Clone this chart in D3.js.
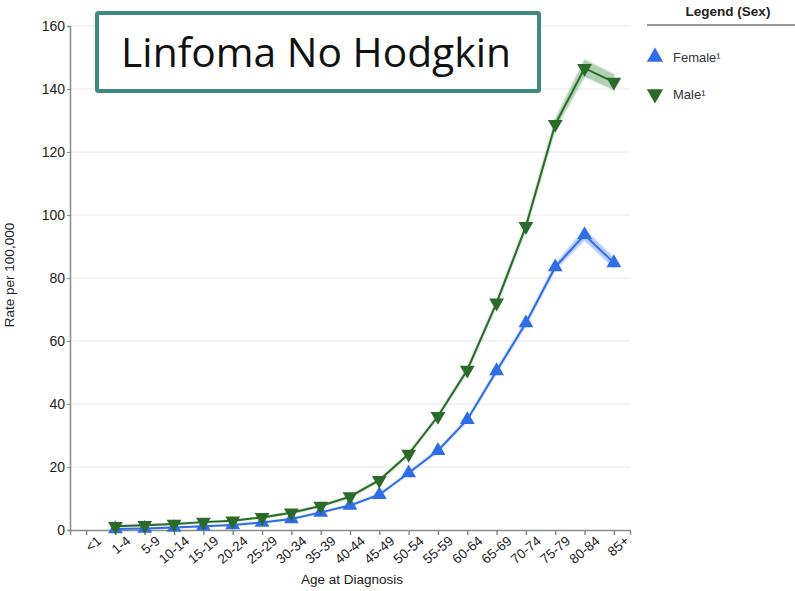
<!DOCTYPE html>
<html>
<head>
<meta charset="utf-8">
<script src="https://cdn.jsdelivr.net/npm/d3@7"></script>
<style>
  body { margin: 0; background: #fff; }
  svg { display: block; }
</style>
</head>
<body>
<svg id="chart" width="795" height="591"></svg>
<script>
// Age groups at diagnosis
const ageGroups = ["<1","1-4","5-9","10-14","15-19","20-24","25-29","30-34","35-39","40-44",
                   "45-49","50-54","55-59","60-64","65-69","70-74","75-79","80-84","85+"];

// Incidence rate per 100,000 (null = not reported)
const femaleRate = [null,0.3,0.5,0.8,1.2,1.6,2.4,3.5,5.6,7.8,11.2,18.1,25.2,35.0,50.5,65.7,83.5,93.7,84.8];
const maleRate   = [null,1.2,1.5,1.9,2.5,2.9,4.0,5.5,7.6,10.6,15.8,24.1,36.1,50.8,72.1,96.4,128.8,146.6,142.2];

// Confidence interval half-widths
const femaleCI = [null,0.05,0.05,0.05,0.1,0.1,0.1,0.15,0.2,0.2,0.3,0.3,0.4,0.5,0.6,0.7,0.9,1.6,1.6];
const maleCI   = [null,0.05,0.05,0.1,0.1,0.1,0.15,0.2,0.2,0.3,0.3,0.4,0.5,0.6,0.7,0.9,1.5,2.6,2.4];

const yTicks = [0,20,40,60,80,100,120,140,160];

const title = "Linfoma No Hodgkin";
const legendTitle = "Legend (Sex)";

const series = [
  { name: "Female\u00B9", values: femaleRate, ci: femaleCI, color: "#2f6de6", band: "#8fb0f2", up: true },
  { name: "Male\u00B9",   values: maleRate,   ci: maleCI,   color: "#2a6b2a", band: "#86b98a", up: false }
];

const svg = d3.select("#chart");
const font = "'Liberation Sans', Arial, Helvetica, sans-serif";

const x = d3.scalePoint().domain(ageGroups).range([70, 630]).padding(0.55);
const y = d3.scaleLinear().domain([0, 160]).range([530, 26]);

// Horizontal gridlines
svg.append("g")
  .selectAll("line")
  .data(yTicks.filter(d => d > 0))
  .join("line")
  .attr("x1", 70).attr("x2", 630)
  .attr("y1", d => y(d)).attr("y2", d => y(d))
  .attr("stroke", "#e6e6e6").attr("stroke-width", 1);

// Y axis
const yAxis = svg.append("g")
  .attr("transform", "translate(70,0)")
  .call(d3.axisLeft(y).tickValues(yTicks).tickSize(3).tickPadding(2));
yAxis.select(".domain").attr("stroke", "#8a8a8a").attr("stroke-width", 1.5);
yAxis.selectAll(".tick line").attr("stroke", "#8a8a8a");
yAxis.selectAll("text").attr("font-family", font).attr("font-size", 14).attr("fill", "#222");

// X axis
const xAxis = svg.append("g")
  .attr("transform", "translate(0,530)")
  .call(d3.axisBottom(x).tickSizeOuter(0).tickSize(5));
xAxis.select(".domain").attr("stroke", "#8a8a8a").attr("stroke-width", 1.5);
xAxis.selectAll(".tick line").attr("stroke", "#8a8a8a").attr("stroke-width", 1.5);
xAxis.selectAll("text")
  .attr("font-family", font).attr("font-size", 13.5).attr("fill", "#222")
  .attr("text-anchor", "end")
  .attr("dx", "0.3em").attr("dy", "0.85em")
  .attr("transform", "rotate(-40)");

// Axis titles
svg.append("text")
  .attr("transform", "translate(14,275) rotate(-90)")
  .attr("text-anchor", "middle")
  .attr("font-family", font).attr("font-size", 13.5).attr("fill", "#222")
  .text("Rate per 100,000");
svg.append("text")
  .attr("x", 352).attr("y", 584)
  .attr("text-anchor", "middle")
  .attr("font-family", font).attr("font-size", 13.5).attr("fill", "#222")
  .text("Age at Diagnosis");

// Series: confidence band, line, markers
const tri = d3.symbol().type(d3.symbolTriangle).size(95);
series.forEach(s => {
  const pts = ageGroups.map((g, i) => ({ g, v: s.values[i], c: s.ci[i] })).filter(d => d.v != null);

  svg.append("path")
    .datum(pts)
    .attr("d", d3.area().x(d => x(d.g)).y0(d => y(d.v - d.c)).y1(d => y(d.v + d.c)))
    .attr("fill", s.band).attr("opacity", 0.65)
    .attr("stroke", s.band).attr("stroke-width", 2.5).attr("stroke-linejoin", "round")
    .attr("stroke-opacity", 0.4);

  svg.append("path")
    .datum(pts)
    .attr("d", d3.line().x(d => x(d.g)).y(d => y(d.v)))
    .attr("fill", "none").attr("stroke", s.color).attr("stroke-width", 2);

  svg.append("g")
    .selectAll("path")
    .data(pts)
    .join("path")
    .attr("d", tri)
    .attr("transform", d => `translate(${x(d.g)},${y(d.v)}) rotate(${s.up ? 0 : 180})`)
    .attr("fill", s.color);
});

// Title box
svg.append("rect")
  .attr("x", 97).attr("y", 13).attr("width", 442).attr("height", 78)
  .attr("fill", "#fff").attr("stroke", "#3f8a7e").attr("stroke-width", 4).attr("rx", 1.5);
const t = svg.append("text")
  .attr("x", 316).attr("y", 67)
  .attr("text-anchor", "middle")
  .attr("font-family", "'Open Sans', 'Noto Sans', sans-serif")
  .attr("font-size", 40).attr("fill", "#111")
  .text(title);
const w = t.node().getComputedTextLength();
t.attr("font-size", 40 * 390 / w);

// Legend
svg.append("text")
  .attr("x", 728).attr("y", 16)
  .attr("text-anchor", "middle")
  .attr("font-family", font).attr("font-size", 13.5).attr("font-weight", "bold").attr("fill", "#222")
  .text(legendTitle);
svg.append("line")
  .attr("x1", 647).attr("x2", 795).attr("y1", 25).attr("y2", 25)
  .attr("stroke", "#777").attr("stroke-width", 1.5);

const leg = svg.append("g")
  .selectAll("g")
  .data(series)
  .join("g")
  .attr("transform", (d, i) => `translate(655,${57 + i * 37})`);
leg.append("path")
  .attr("d", d3.symbol().type(d3.symbolTriangle).size(115))
  .attr("transform", d => `rotate(${d.up ? 0 : 180})`)
  .attr("fill", d => d.color);
leg.append("text")
  .attr("x", 18).attr("y", 5)
  .attr("font-family", font).attr("font-size", 13).attr("fill", "#333")
  .text(d => d.name);
</script>
</body>
</html>
